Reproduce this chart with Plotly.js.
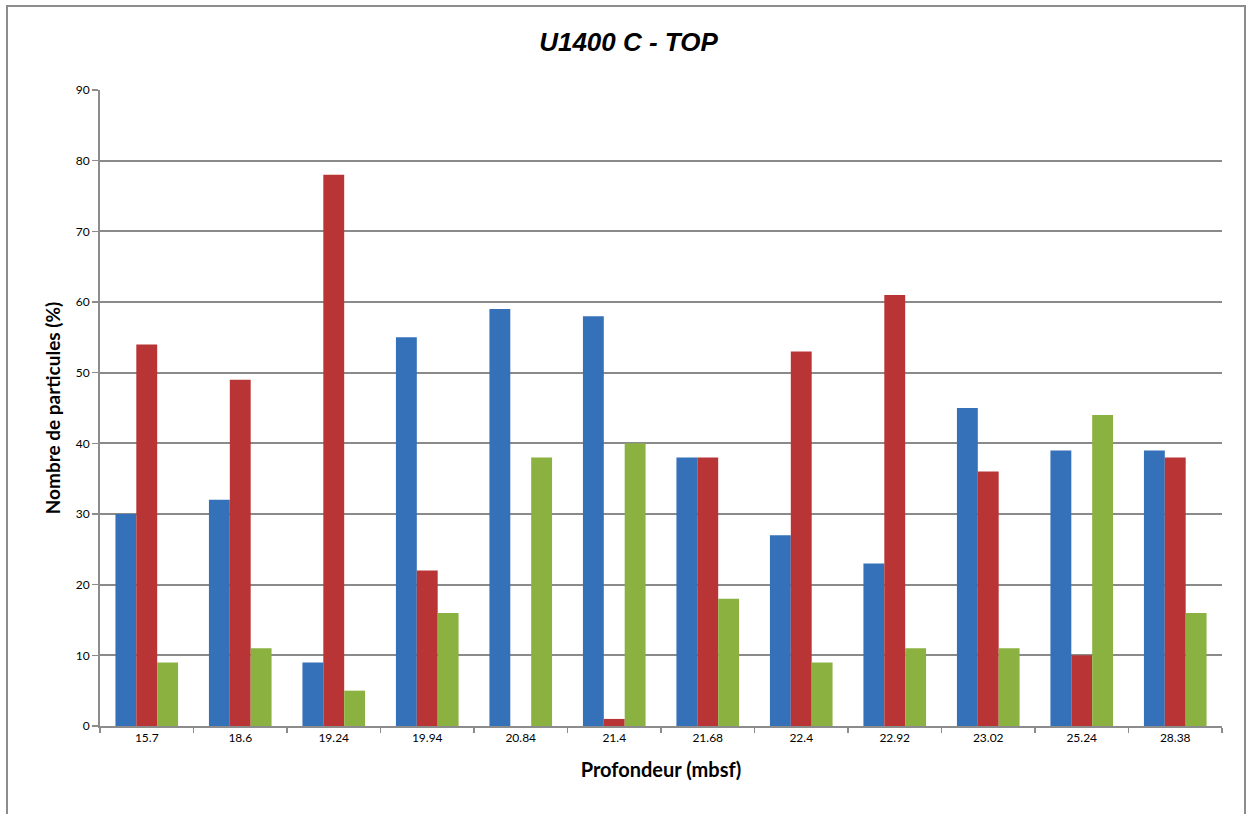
<!DOCTYPE html>
<html>
<head>
<meta charset="utf-8">
<script src="https://cdn.plot.ly/plotly-3.0.1.min.js"></script>
<style>
html,body{margin:0;padding:0;background:#fff;overflow:hidden;}
#wrap{position:relative;width:1252px;height:814px;}
#frame{position:absolute;left:6px;top:5px;width:1240px;height:830px;border:2px solid #8c8c8c;box-sizing:border-box;pointer-events:none;}
#chart{position:absolute;left:0;top:0;width:1252px;height:814px;}
</style>
</head>
<body>
<div id="wrap"><div id="chart"></div><div id="frame"></div></div>
<script>
const categories = ["15.7","18.6","19.24","19.94","20.84","21.4","21.68","22.4","22.92","23.02","25.24","28.38"];
const seriesBlue  = [30, 32, 9, 55, 59, 58, 38, 27, 23, 45, 39, 39];
const seriesRed   = [54, 49, 78, 22, 0, 1, 38, 53, 61, 36, 10, 38];
const seriesGreen = [9, 11, 5, 16, 38, 40, 18, 9, 11, 11, 44, 16];
const yTicks = [0,10,20,30,40,50,60,70,80,90];

const mk = (y, color, name) => ({
  type: 'bar', x: categories, y: y, name: name,
  marker: {color: color, line: {width: 0}},
  hoverinfo: 'x+y'
});

const data = [
  mk(seriesBlue, '#3571b9', 'Série 1'),
  mk(seriesRed, '#b93434', 'Série 2'),
  mk(seriesGreen, '#8bb141', 'Série 3')
];

const layout = {
  width: 1252, height: 814,
  margin: {l: 100, r: 30, t: 90, b: 88},
  paper_bgcolor: 'rgba(0,0,0,0)', plot_bgcolor: '#fff',
  showlegend: false,
  barmode: 'group', bargap: 0.33, bargroupgap: 0,
  title: {text: '<b><i>U1400 C - TOP</i></b>', x: 0.502, xanchor: 'center', y: 0.948, yanchor: 'middle',
          font: {family: 'Liberation Sans, Arial, sans-serif', size: 26, color: '#000'}},
  xaxis: {
    type: 'category', tickson: 'boundaries', ticks: 'outside', ticklen: 5, tickwidth: 1.5, tickcolor: '#8c8c8c',
    showline: true, linecolor: '#8c8c8c', linewidth: 2, showgrid: false,
    tickfont: {family: 'Lato, sans-serif', size: 12, color: '#000'},
    title: {text: '<b>Profondeur (mbsf)</b>', font: {family: 'Lato, sans-serif', size: 20, color: '#000'}, standoff: 19}
  },
  yaxis: {
    range: [0, 90], tickvals: yTicks, ticktext: yTicks.map(String),
    ticks: 'outside', ticklen: 6, tickwidth: 1.5, tickcolor: '#8c8c8c',
    showline: true, linecolor: '#8c8c8c', linewidth: 2,
    showgrid: true, gridcolor: '#8a8a8a', gridwidth: 2, zeroline: false,
    tickfont: {family: 'Lato, sans-serif', size: 12, color: '#000'},
    title: {text: '<b>Nombre de particules (%)</b>', font: {family: 'Lato, sans-serif', size: 19, color: '#000'}, standoff: 10}
  }
};

Plotly.newPlot('chart', data, layout, {displayModeBar: false, staticPlot: true});
</script>
</body>
</html>
